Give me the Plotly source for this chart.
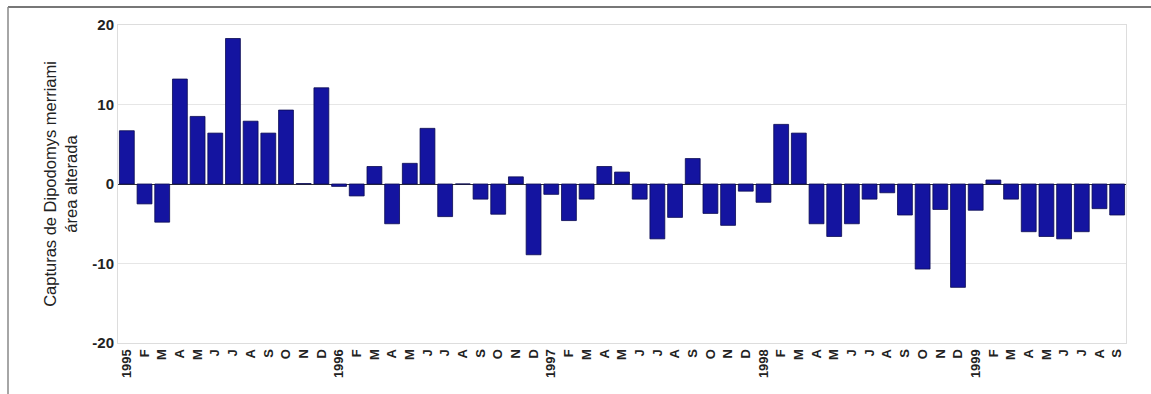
import plotly.graph_objects as go

month_labels = (
    ["1995", "F", "M", "A", "M", "J", "J", "A", "S", "O", "N", "D"]
    + ["1996", "F", "M", "A", "M", "J", "J", "A", "S", "O", "N", "D"]
    + ["1997", "F", "M", "A", "M", "J", "J", "A", "S", "O", "N", "D"]
    + ["1998", "F", "M", "A", "M", "J", "J", "A", "S", "O", "N", "D"]
    + ["1999", "F", "M", "A", "M", "J", "J", "A", "S"]
)

values_1995 = [6.7, -2.5, -4.8, 13.2, 8.5, 6.4, 18.3, 7.9, 6.4, 9.3, 0.05, 12.1]
values_1996 = [-0.3, -1.5, 2.2, -5.0, 2.6, 7.0, -4.1, 0.0, -1.9, -3.8, 0.9, -8.9]
values_1997 = [-1.3, -4.6, -1.9, 2.2, 1.5, -1.9, -6.9, -4.2, 3.2, -3.7, -5.2, -0.9]
values_1998 = [-2.3, 7.5, 6.4, -5.0, -6.6, -5.0, -1.9, -1.1, -3.9, -10.7, -3.2, -13.0]
values_1999 = [-3.3, 0.5, -1.9, -6.0, -6.6, -6.9, -6.0, -3.1, -3.9]

values = values_1995 + values_1996 + values_1997 + values_1998 + values_1999
x_idx = list(range(len(values)))

y_ticks = [-20, -10, 0, 10, 20]
y_tick_text = ["-20", "-10", "0", "10", "20"]
y_title = "Capturas de Dipodomys merriami<br>área alterada"

FONT = "Liberation Sans, Arial, sans-serif"

fig = go.Figure(
    go.Bar(
        x=x_idx,
        y=values,
        marker=dict(color="#1414a0", line=dict(color="#0a0a50", width=0.8)),
        width=0.84,
    )
)

fig.update_layout(
    width=1151,
    height=394,
    margin=dict(l=118, r=25, t=25, b=51),
    paper_bgcolor="white",
    plot_bgcolor="white",
    showlegend=False,
    font=dict(family=FONT, color="#222"),
    shapes=[
        dict(type="line", xref="paper", yref="paper",
             x0=(8 - 118) / 1008, x1=(1151 - 118) / 1008,
             y0=(343 - 7) / 318, y1=(343 - 7) / 318,
             line=dict(color="#777", width=2)),
        dict(type="line", xref="paper", yref="paper",
             x0=(8 - 118) / 1008, x1=(8 - 118) / 1008,
             y0=(343 - 7) / 318, y1=(343 - 394) / 318,
             line=dict(color="#888", width=1.5)),
    ],
)

fig.update_xaxes(
    tickmode="array",
    tickvals=x_idx,
    ticktext=month_labels,
    tickangle=-90,
    tickfont=dict(size=13, color="#222", family=FONT, weight="bold"),
    range=[-0.5, len(values) - 0.5],
    showgrid=False,
    showline=True,
    linecolor="#dddddd",
    linewidth=1,
    mirror=True,
    ticks="",
    zeroline=False,
)

fig.update_yaxes(
    range=[-20, 20],
    tickmode="array",
    tickvals=y_ticks,
    ticktext=y_tick_text,
    tickfont=dict(size=15, color="#222", family=FONT, weight="bold"),
    showgrid=True,
    gridcolor="#e6e6e6",
    gridwidth=1,
    showline=True,
    linecolor="#dddddd",
    mirror=True,
    zeroline=True,
    zerolinecolor="#333",
    zerolinewidth=1,
    ticks="",
    title=dict(text=y_title, font=dict(size=16.5, color="#222"), standoff=10),
)

fig.write_html("out.html")
